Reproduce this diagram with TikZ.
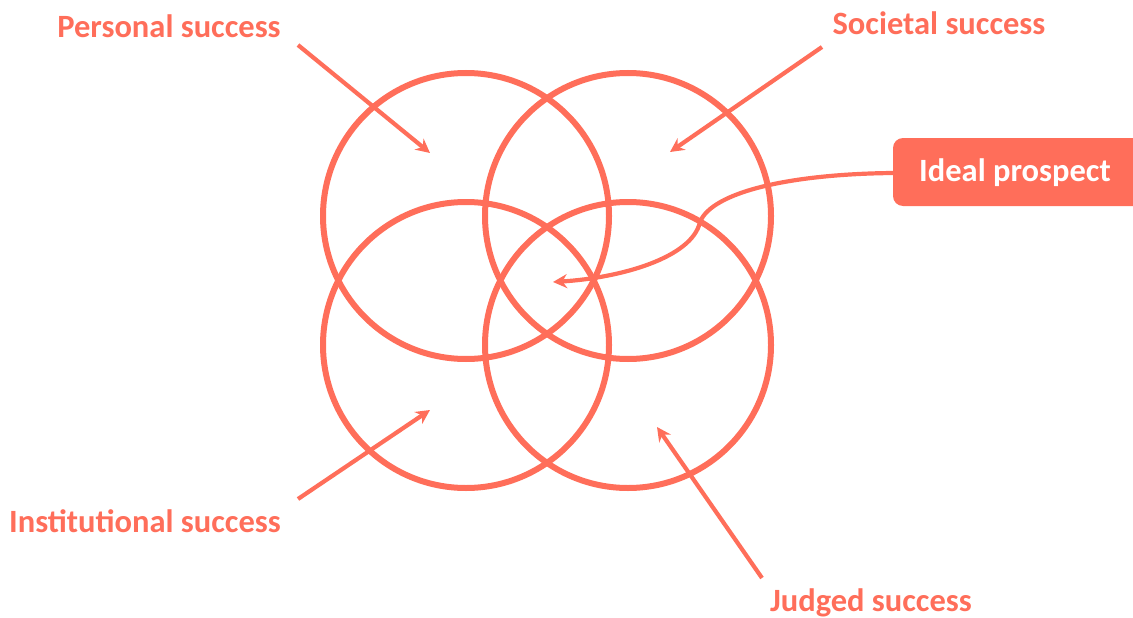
\documentclass[tikz,border=0pt]{standalone}
\usepackage{fontspec}
\setmainfont{Carlito}
\usetikzlibrary{arrows.meta}
\definecolor{coral}{RGB}{255,110,90}
\tikzset{
  ring/.style={draw=coral, line width=6pt},
  lbl/.style={text=coral, font=\fontsize{32.5}{38}\selectfont\bfseries, inner sep=0pt},
  pointer/.style={draw=coral, line width=4.2pt, -{Stealth[length=14pt,width=14pt]}},
  ideal/.style={fill=coral, rounded corners=10pt}
}
\begin{document}
\begin{tikzpicture}[x=1pt,y=-1pt]
\useasboundingbox (0,0) rectangle (1133,618);
% circles
\draw[ring] (466,216) circle (143);
\draw[ring] (628,216) circle (143);
\draw[ring] (466,345) circle (143);
\draw[ring] (628,345) circle (143);
% labels
\node[lbl] (ps) at (169,26) {Personal success};
\node[lbl] (ss) at (939,23) {Societal success};
\node[lbl] (is) at (145,521) {Institutional success};
\node[lbl] (js) at (871,603) {Judged success};
% box
\fill[ideal] (893,138) rectangle (1145,206);
\node[text=white, font=\fontsize{32.5}{38}\selectfont\bfseries, inner sep=0pt] (ip) at (1015,173) {Ideal prospect};
\coordinate (ipw) at (893,173);
% arrow ends
\coordinate (a1s) at (298,45);  \coordinate (a1e) at (430,153);
\coordinate (a2s) at (822,47);  \coordinate (a2e) at (670,152);
\coordinate (a3s) at (298,499); \coordinate (a3e) at (430,410);
\coordinate (a4s) at (762,578); \coordinate (a4e) at (657,427);
\coordinate (cusp) at (700,222);
\coordinate (ctr) at (553,282);
\draw[pointer] (a1s) -- (a1e);
\draw[pointer] (a2s) -- (a2e);
\draw[pointer] (a3s) -- (a3e);
\draw[pointer] (a4s) -- (a4e);
\draw[pointer] (ipw) .. controls (790,174) and (712,192) .. (cusp)
  .. controls (692,258) and (620,278) .. (ctr);
\end{tikzpicture}
\end{document}
